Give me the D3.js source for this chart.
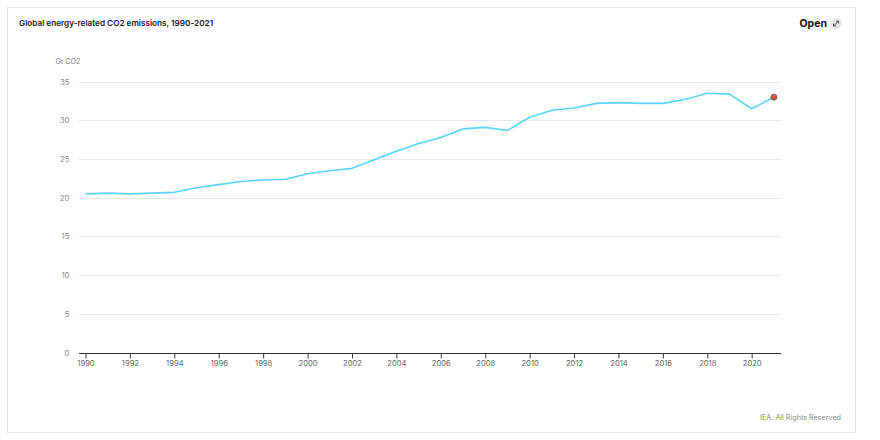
<!DOCTYPE html>
<html><head><meta charset="utf-8">
<script src="https://cdn.jsdelivr.net/npm/d3@7"></script>
<style>
html,body{margin:0;padding:0;background:#fff;}
svg{display:block;font-family:Inter,"Noto Sans",sans-serif;}
</style></head>
<body>
<svg id="c" width="880" height="440"></svg>
<script>
const years = d3.range(1990, 2022);
const emissions = [20.5,20.6,20.5,20.6,20.7,21.3,21.7,22.1,22.3,22.4,23.1,23.5,23.8,24.9,26.0,27.0,27.8,28.9,29.1,28.7,30.4,31.3,31.6,32.2,32.3,32.2,32.2,32.7,33.5,33.4,31.5,33.0];
const yTicks = [0,5,10,15,20,25,30,35];
const xTicks = d3.range(1990, 2021, 2);
const title = "Global energy-related CO2 emissions, 1990-2021";
const unit = "Gt CO2";
const credit = "IEA. All Rights Reserved";

const svg = d3.select("#c");
svg.append("rect").attr("x",7.5).attr("y",7.5).attr("width",848).attr("height",425)
  .attr("fill","#fff").attr("stroke","#e6e6e6");
svg.append("text").attr("x",19).attr("y",26).attr("font-size",8.2).attr("font-weight",600)
  .attr("fill","#1a1a1a").text(title);
svg.append("text").attr("x",827).attr("y",27).attr("text-anchor","end").attr("font-size",10.5)
  .attr("font-weight",700).attr("fill","#111").text("Open");
const ic = svg.append("g").attr("transform","translate(836,23.5)");
ic.append("circle").attr("r",5.5).attr("fill","#e4e4e4");
ic.append("path").attr("d","M-2.3,2.3L2.3,-2.3M0.2,-2.4L2.4,-2.4L2.4,-0.2M-0.2,2.4L-2.4,2.4L-2.4,0.2")
  .attr("stroke","#333").attr("stroke-width",0.9).attr("fill","none");

const x = d3.scaleLinear().domain([1990,2020]).range([85.5,751.7]);
const y = d3.scaleLinear().domain([0,35]).range([352.5,81.7]);
const x0 = 79, x1 = 781;

const grid = svg.append("g");
yTicks.filter(t=>t>0).forEach(t=>{
  grid.append("line").attr("x1",x0).attr("x2",x1).attr("y1",Math.round(y(t))+0.5).attr("y2",Math.round(y(t))+0.5)
    .attr("stroke","#e8e8e8").attr("stroke-width",1);
});
const yAx = svg.append("g").attr("transform",`translate(${x0},0)`)
  .call(d3.axisLeft(y).tickValues(yTicks).tickSize(0).tickPadding(9.5));
yAx.select(".domain").remove();
yAx.selectAll("text").attr("font-size",7.8).attr("fill","#8a8a8a").attr("font-family","Inter,'Noto Sans',sans-serif");
svg.append("text").attr("x",55.5).attr("y",64).attr("font-size",7.2).attr("fill","#808080").text(unit);

const xAx = svg.append("g").attr("transform",`translate(0,${Math.round(y(0))+0.5})`)
  .call(d3.axisBottom(x).tickValues(xTicks).tickFormat(d3.format("d")).tickSize(5).tickPadding(2.5));
xAx.select(".domain").attr("d",`M${x0},0H${x1}`).attr("stroke","#333");
xAx.selectAll(".tick line").attr("stroke","#333");
xAx.selectAll("text").attr("font-size",7.6).attr("fill","#666").attr("font-family","Inter,'Noto Sans',sans-serif");

const line = d3.line().x((d,i)=>x(years[i])).y(d=>y(d));
svg.append("path").datum(emissions).attr("d",line).attr("fill","none")
  .attr("stroke","#5bd3fb").attr("stroke-width",1.6).attr("stroke-linejoin","round");
svg.append("circle").attr("cx",x(years[years.length-1])).attr("cy",y(emissions[emissions.length-1]))
  .attr("r",3).attr("fill","#e9502f").attr("stroke","#555").attr("stroke-width",0.8);

svg.append("text").attr("x",841).attr("y",420).attr("text-anchor","end").attr("font-size",7.2)
  .attr("fill","#888").text(credit);
</script>
</body></html>
